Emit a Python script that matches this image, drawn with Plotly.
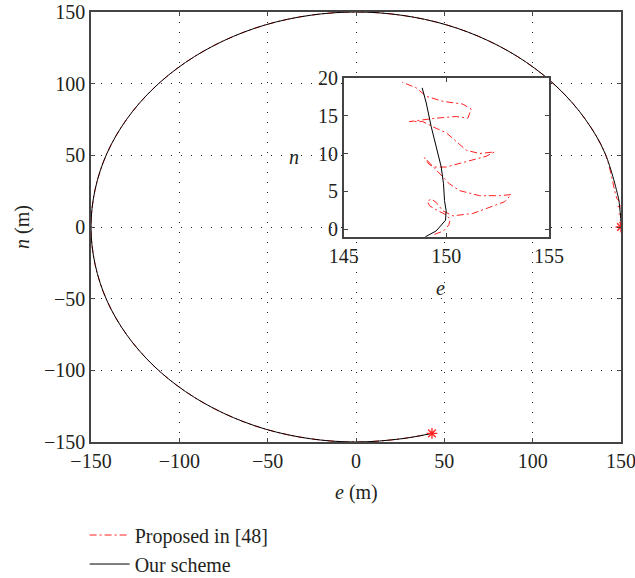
import plotly.graph_objects as go

# Main trajectory (circle), e/n in metres
circle_e = [150, 147.7, 141.0, 129.9, 114.9, 96.4, 75, 51.3, 26.0, 0, -26.0, -51.3, -75, -96.4,
            -114.9, -129.9, -141.0, -147.7, -150, -147.7, -141.0, -129.9, -114.9, -96.4, -75,
            -51.3, -26.0, 0, 26.0, 43]
circle_n = [0, 26.0, 51.3, 75, 96.4, 114.9, 129.9, 141.0, 147.7, 150, 147.7, 141.0, 129.9, 114.9,
            96.4, 75, 51.3, 26.0, 0, -26.0, -51.3, -75, -96.4, -114.9, -129.9, -141.0, -147.7,
            -150, -147.7, -144]

# Inset: zoom near the start
red_e = [149.42, 149.86, 150.12, 150.19, 149.99, 149.59, 149.18, 149.07, 149.26, 149.50, 149.83,
         150.32, 151.29, 152.11, 152.84, 153.16, 152.59, 151.62, 150.64, 150.15, 149.59, 149.10,
         148.93, 149.15, 149.42, 149.99, 151.13, 151.94, 152.35, 151.62, 150.97, 150.40, 149.99,
         149.50, 148.85, 148.20, 148.85, 149.50, 150.48, 151.05, 151.21, 150.80, 149.83, 149.02,
         148.53, 147.85]
red_n = [-0.67, -0.22, 0.58, 1.33, 1.91, 2.44, 3.11, 3.69, 4.0, 3.56, 2.44, 1.78, 2.09, 2.89,
         3.64, 4.58, 4.44, 4.44, 5.11, 6.0, 7.56, 8.89, 9.47, 8.58, 8.22, 8.22, 9.02, 9.64, 10.22,
         10.0, 10.44, 11.78, 12.76, 13.33, 14.22, 14.22, 14.44, 14.67, 14.89, 14.67, 15.87, 16.53,
         16.89, 17.56, 18.67, 19.42]
black_e = [148.98, 149.50, 149.96, 149.99, 149.91, 149.86, 149.75, 149.50, 149.26, 149.02, 148.82]
black_n = [-0.98, -0.22, 1.2, 2.44, 3.78, 6.0, 8.22, 10.89, 13.56, 16.67, 18.67]

start_pt = (150, 0)
end_pt = (43, -144)

main_ticks = [-150, -100, -50, 0, 50, 100, 150]
inset_xticks = [145, 150, 155]
inset_yticks = [0, 5, 10, 15, 20]

FONT = "Liberation Serif"
TXT = "#231f20"
RED = "#ff2020"
FS = 20
DASH = "7px,3px,2px,3px"

fig = go.Figure()

# main plot
fig.add_trace(go.Scatter(x=red_e + circle_e[2:], y=red_n + circle_n[2:], mode="lines",
                         line=dict(color=RED, width=1, dash=DASH, shape="spline"),
                         name="Proposed in [48]", xaxis="x", yaxis="y"))
fig.add_trace(go.Scatter(x=black_e + circle_e[2:], y=black_n + circle_n[2:], mode="lines",
                         line=dict(color="black", width=1, shape="spline"),
                         name="Our scheme", xaxis="x", yaxis="y"))
fig.add_trace(go.Scatter(x=[start_pt[0], end_pt[0]], y=[start_pt[1], end_pt[1]], mode="markers",
                         marker=dict(symbol="asterisk-open", size=9, color=RED,
                                     line=dict(color=RED, width=1.3)),
                         showlegend=False, xaxis="x", yaxis="y"))

# inset
fig.add_trace(go.Scatter(x=red_e, y=red_n, mode="lines",
                         line=dict(color=RED, width=1, dash=DASH),
                         showlegend=False, xaxis="x2", yaxis="y2"))
fig.add_trace(go.Scatter(x=black_e, y=black_n, mode="lines",
                         line=dict(color="black", width=1),
                         showlegend=False, xaxis="x2", yaxis="y2"))

axis_common = dict(showline=True, linecolor="#444", linewidth=1.5, mirror="ticks",
                   ticks="inside", ticklen=4, tickcolor="#444", zeroline=False,
                   automargin=False, ticklabeloverflow="allow",
                   tickfont=dict(family=FONT, size=FS, color=TXT))

grid = dict(showgrid=True, gridcolor="#222", gridwidth=1, griddash="1px,9px")

fig.update_layout(
    width=635, height=578,
    margin=dict(l=91, r=14, t=12, b=136, autoexpand=False),
    paper_bgcolor="white", plot_bgcolor="white",
    xaxis=dict(range=[-150, 150], tickvals=main_ticks,
               ticktext=[str(v).replace("-", "\u2212") for v in main_ticks],
               domain=[0, 1], **grid, **axis_common),
    yaxis=dict(range=[-150, 150], tickvals=main_ticks,
               ticktext=[str(v).replace("-", "\u2212") for v in main_ticks],
               domain=[0, 1], **grid, **axis_common),
    xaxis2=dict(range=[145, 155], tickvals=inset_xticks, showgrid=False,
                domain=[0.477, 0.864], anchor="y2", **axis_common),
    yaxis2=dict(range=[-1, 20], tickvals=inset_yticks, showgrid=False,
                domain=[0.477, 0.847], anchor="x2", **axis_common),
    legend=dict(x=-0.012, y=-0.171, xanchor="left", yanchor="top",
                font=dict(family=FONT, size=FS, color=TXT),
                bgcolor="rgba(0,0,0,0)", tracegroupgap=0, itemwidth=40),
    annotations=[
        dict(text="<i>e</i> (m)", x=0.5, y=(442 - 492) / 430, xref="paper", yref="paper",
             showarrow=False, font=dict(family=FONT, size=FS, color=TXT), yanchor="middle"),
        dict(text="<i>n</i> (m)", x=(22 - 91) / 530, y=0.5, xref="paper", yref="paper",
             textangle=-90, showarrow=False, font=dict(family=FONT, size=FS, color=TXT),
             xanchor="center"),
        dict(text="<i>e</i>", x=(447 - 91) / 530, y=(442 - 288) / 430, xref="paper", yref="paper",
             showarrow=False, font=dict(family=FONT, size=FS, color=TXT)),
        dict(text="<i>n</i>", x=(294 - 91) / 530, y=(442 - 157) / 430, xref="paper", yref="paper",
             showarrow=False, font=dict(family=FONT, size=FS, color=TXT)),
    ],
)

fig.write_html("out.html", config={"displayModeBar": False},
               post_script="document.body.style.margin='0';document.body.style.overflow='hidden';")
